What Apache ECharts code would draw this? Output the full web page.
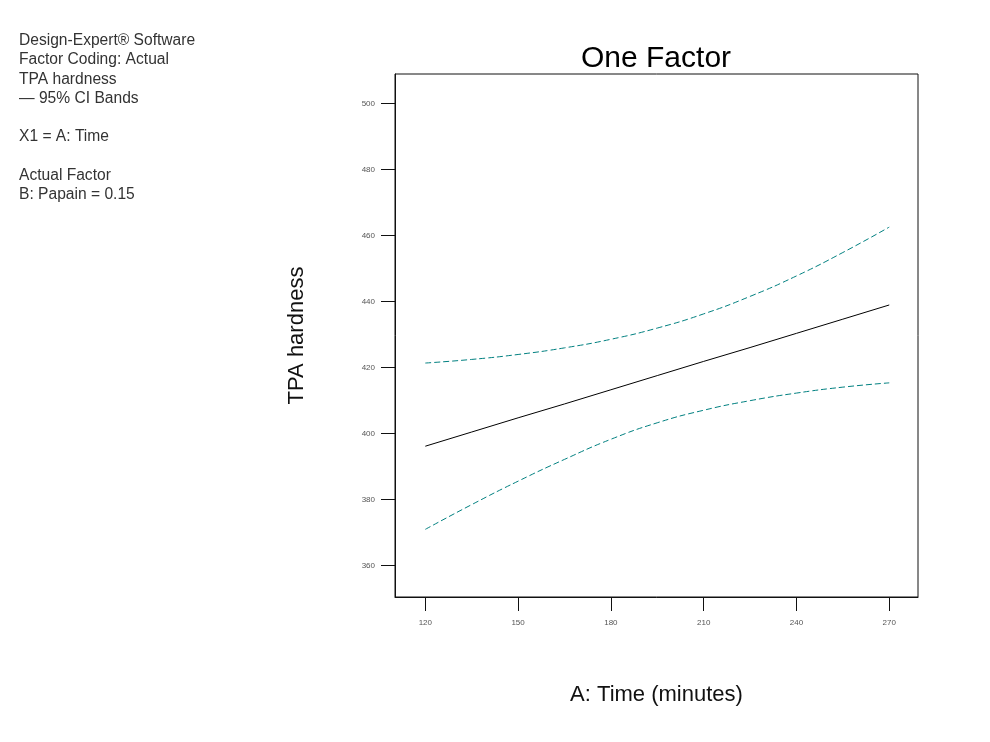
<!DOCTYPE html>
<html>
<head>
<meta charset="utf-8">
<script src="https://cdn.jsdelivr.net/npm/echarts@6/dist/echarts.min.js"></script>
<style>
  html, body { margin: 0; padding: 0; background: #fff; }
  #main { width: 990px; height: 742px; }
</style>
</head>
<body>
<div id="main"></div>
<script>
// A: Time (minutes)
var times = [120, 135, 150, 165, 180, 195, 210, 225, 240, 255, 270];
// predicted TPA hardness
var predicted = [396.1, 400.4, 404.7, 408.9, 413.2, 417.5, 421.8, 426.0, 430.3, 434.6, 438.9];
// 95% CI bands
var upperCI = [421.3, 422.4, 423.9, 425.9, 428.5, 431.9, 436.2, 441.5, 447.7, 454.8, 462.5];
var lowerCI = [370.9, 378.4, 385.5, 392.1, 398.2, 403.2, 407.0, 409.9, 412.2, 414.0, 415.3];

var xTicks = [120, 150, 180, 210, 240, 270];
var yTicks = [360, 380, 400, 420, 440, 460, 480, 500];

var infoLines = [
    'Design-Expert\u00ae Software',
    'Factor Coding: Actual',
    'TPA hardness',
    '\u2014 95% CI Bands',
    '',
    'X1 = A: Time',
    '',
    'Actual Factor',
    'B: Papain = 0.15'
];

function pairs(xs, ys) {
    return xs.map(function (x, i) { return [x, ys[i]]; });
}

var font = '"Liberation Sans", Arial, sans-serif';
var chart = echarts.init(document.getElementById('main'));

var option = {
    backgroundColor: '#fff',
    animation: false,
    textStyle: { fontFamily: font },
    title: {
        text: 'One Factor',
        left: 576,
        top: 39,
        textStyle: { fontSize: 30, fontWeight: 'normal', color: '#000', fontFamily: font }
    },
    graphic: [{
        type: 'text',
        left: 19,
        top: 31,
        style: {
            text: infoLines.join('\n'),
            font: '15.6px ' + font,
            fill: '#333',
            lineHeight: 19.3
        }
    }],
    grid: {
        left: 395,
        top: 74,
        right: 72,
        bottom: 145,
        show: true,
        borderColor: '#111',
        borderWidth: 1,
        containLabel: false
    },
    xAxis: {
        type: 'value',
        min: 110.2,
        max: 279.3,
        name: 'A: Time (minutes)',
        nameLocation: 'middle',
        nameGap: 87,
        nameTextStyle: { fontSize: 22, color: '#111', fontFamily: font },
        splitLine: { show: false },
        axisLine: { lineStyle: { color: '#111', width: 1 } },
        axisTick: { customValues: xTicks, length: 14, lineStyle: { color: '#111' } },
        axisLabel: { customValues: xTicks, fontSize: 8, color: '#555', margin: 22 }
    },
    yAxis: {
        type: 'value',
        min: 350.4,
        max: 508.9,
        name: 'TPA hardness',
        nameLocation: 'middle',
        nameGap: 87,
        nameTextStyle: { fontSize: 22, color: '#111', fontFamily: font },
        splitLine: { show: false },
        axisLine: { show: true, lineStyle: { color: '#111', width: 1 } },
        axisTick: { show: true, customValues: yTicks, length: 14, lineStyle: { color: '#111' } },
        axisLabel: { customValues: yTicks, fontSize: 8, color: '#555', margin: 20 }
    },
    series: [
        {
            name: 'Predicted',
            type: 'line',
            data: pairs(times, predicted),
            showSymbol: false,
            lineStyle: { color: '#000', width: 1 }
        },
        {
            name: 'Upper 95% CI',
            type: 'line',
            data: pairs(times, upperCI),
            smooth: true,
            showSymbol: false,
            lineStyle: { color: '#008080', width: 1, type: [6, 3] }
        },
        {
            name: 'Lower 95% CI',
            type: 'line',
            data: pairs(times, lowerCI),
            smooth: true,
            showSymbol: false,
            lineStyle: { color: '#008080', width: 1, type: [6, 3] }
        }
    ]
};

chart.setOption(option);
</script>
</body>
</html>
